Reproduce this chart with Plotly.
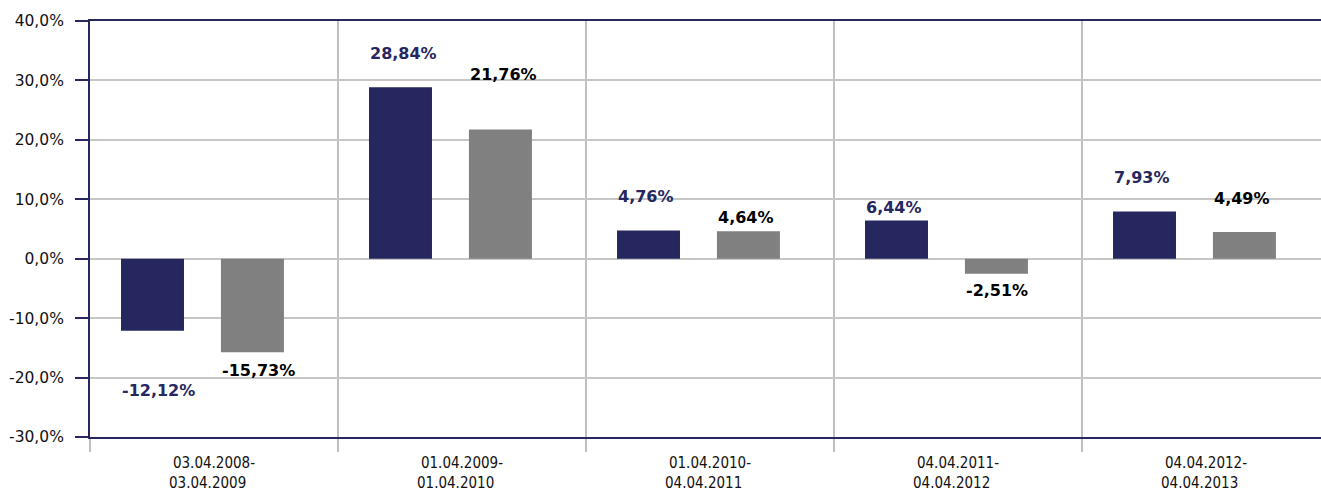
import plotly.graph_objects as go

period_start = ["03.04.2008-", "01.04.2009-", "01.04.2010-", "04.04.2011-", "04.04.2012-"]
period_end = ["03.04.2009", "01.04.2010", "04.04.2011", "04.04.2012", "04.04.2013"]
fund = [-12.12, 28.84, 4.76, 6.44, 7.93]
benchmark = [-15.73, 21.76, 4.64, -2.51, 4.49]
y_ticks = [-30, -20, -10, 0, 10, 20, 30, 40]
y_tick_labels = ["-30,0%", "-20,0%", "-10,0%", "0,0%", "10,0%", "20,0%", "30,0%", "40,0%"]

NAVY = "#26275f"
GRAY = "#808080"
GRID = "#c6c6c6"

# label placement (style only): px offsets of each value label
fund_dy = [-60, 34, 34, 13, 34]
fund_dx = [-56, -59, -64, -64, -64]
bench_dy = [-18, 55, 14, -17, 34]
bench_dx = [44, 41, 36, 39, 36]

cats = [a + b for a, b in zip(period_start, period_end)]

BAR_W = 0.254
fig = go.Figure()
fig.add_trace(go.Bar(x=cats, y=fund, width=BAR_W, offset=-0.375,
                     marker=dict(color=NAVY, line=dict(width=0)),
                     hoverinfo="skip", showlegend=False))
fig.add_trace(go.Bar(x=cats, y=benchmark, width=BAR_W, offset=0.028,
                     marker=dict(color=GRAY, line=dict(width=0)),
                     hoverinfo="skip", showlegend=False))

def fmt(v):
    return f"{v:.2f}".replace(".", ",") + "%"

ann = []
for i, c in enumerate(cats):
    ann.append(dict(x=c, y=fund[i], xref="x", yref="y", text=fmt(fund[i]), showarrow=False,
                    xshift=fund_dx[i], yshift=fund_dy[i],
                    font=dict(family="DejaVu Sans", size=16, color=NAVY, weight="bold")))
    ann.append(dict(x=c, y=benchmark[i], xref="x", yref="y", text=fmt(benchmark[i]), showarrow=False,
                    xshift=bench_dx[i], yshift=bench_dy[i],
                    font=dict(family="DejaVu Sans", size=16, color="#000000", weight="bold")))
    ann.append(dict(x=c, y=0, xref="x", yref="paper", text=period_end[i], showarrow=False,
                    yshift=-46, xshift=-7, xanchor="center", yanchor="middle",
                    font=dict(family="DejaVu Sans Condensed", size=15, color="#111111")))

fig.update_layout(
    width=1330, height=492,
    margin=dict(l=90, r=0, t=21, b=55, autoexpand=False),
    paper_bgcolor="white", plot_bgcolor="white",
    barmode="overlay",
    separators=", ",
    annotations=ann,
    font=dict(family="DejaVu Sans", color="#111111"),
)
fig.update_xaxes(
    type="category", automargin=False,
    tickmode="array", tickvals=cats, ticktext=period_start,
    tickson="boundaries", showgrid=True, gridcolor="#c0c0c0", gridwidth=2,
    ticks="outside", ticklen=13, tickwidth=2, tickcolor="#c0c0c0",
    ticklabelstandoff=11,
    showline=True, linecolor=NAVY, linewidth=2, mirror=True,
    tickfont=dict(family="DejaVu Sans Condensed", size=15, color="#111111"),
    range=[-0.5, 4.5], fixedrange=True,
)
fig.update_yaxes(
    automargin=False,
    range=[-30, 40], tickmode="array", tickvals=y_ticks, ticktext=y_tick_labels,
    showgrid=True, gridcolor=GRID, gridwidth=1.5, zeroline=False,
    showline=True, linecolor=NAVY, linewidth=2,
    ticks="outside", ticklen=13, tickwidth=2, tickcolor=NAVY,
    ticklabelstandoff=8,
    tickfont=dict(family="DejaVu Sans", size=15.5, color="#111111"),
    fixedrange=True,
)

fig.write_html("out.html", config={"displayModeBar": False},
               post_script="document.body.style.margin='0px';document.body.style.overflow='hidden';")
